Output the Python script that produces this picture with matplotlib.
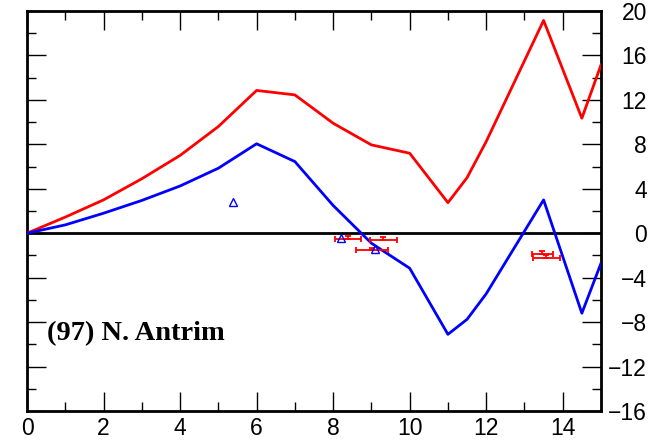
import matplotlib.pyplot as plt
import numpy as np

# curves
x_line = [0, 1, 2, 3, 4, 5, 6, 7, 8, 9, 10, 11, 11.5, 12, 13.5, 14.5, 15]
red_y = [0, 1.45, 3.0, 4.9, 7.0, 9.6, 12.85, 12.45, 9.9, 7.95, 7.2, 2.75, 5.0, 8.25, 19.15, 10.35, 15.15]
blue_y = [0, 0.75, 1.8, 2.95, 4.25, 5.85, 8.05, 6.45, 2.5, -0.9, -3.15, -9.1, -7.75, -5.45, 3.0, -7.2, -2.7]

# blue open triangles
tri_x = [5.38, 8.2, 9.1]
tri_y = [2.8, -0.4, -1.4]

# red error bars
err_x = [8.38, 9.31, 9.01, 13.47, 13.57]
err_y = [-0.5, -0.6, -1.55, -1.85, -2.2]
err_dx = [0.34, 0.35, 0.42, 0.27, 0.36]

plt.rcParams['font.family'] = 'Liberation Sans'

fig = plt.figure(figsize=(6.71, 4.41), dpi=100)
ax = fig.add_axes([27/671, 30/441, 574/671, 400/441])

ax.axhline(0, color='black', linewidth=2.0, zorder=2)
ax.plot(x_line, red_y, color='#ff0000', linewidth=2.0, zorder=3)
ax.plot(x_line, blue_y, color='#0000ff', linewidth=2.0, zorder=3)
ax.errorbar(err_x, err_y, xerr=err_dx, yerr=[[0]*5, [0.25]*5], fmt='none',
            ecolor='#ff0000', elinewidth=1.3, capsize=2, capthick=1.3, zorder=4)
ax.plot(tri_x, tri_y, linestyle='none', marker='^', markersize=6,
        markerfacecolor='none', markeredgecolor='#0000ff', markeredgewidth=1.0, zorder=5)

ax.text(0.52, -9.0, '(97) N. Antrim', family='Liberation Serif', fontweight='bold',
        fontsize=20.5, va='center', ha='left')

ax.set_xlim(0, 15)
ax.set_ylim(-16, 20)
ax.set_xticks(np.arange(0, 15, 2))
ax.set_xticks(np.arange(1, 15, 2), minor=True)
ax.set_yticks(np.arange(-16, 21, 4))
ax.set_yticks(np.arange(-14, 20, 4), minor=True)
ax.set_yticklabels([str(v).replace('-', '\u2212') for v in range(-16, 21, 4)])

ax.tick_params(which='both', direction='in', top=True, bottom=True, left=True, right=True,
               labelleft=False, labelright=True, width=1.0, color='black')
ax.tick_params(which='major', length=13.5)
ax.tick_params(which='minor', length=6.5)
ax.tick_params(axis='x', labelsize=16.5, pad=4)
ax.tick_params(axis='y', labelsize=16.5, pad=33)
for lab in ax.get_yticklabels():
    lab.set_horizontalalignment('right')

for s in ax.spines.values():
    s.set_linewidth(2.0)

fig.savefig('out.png', dpi=100)
